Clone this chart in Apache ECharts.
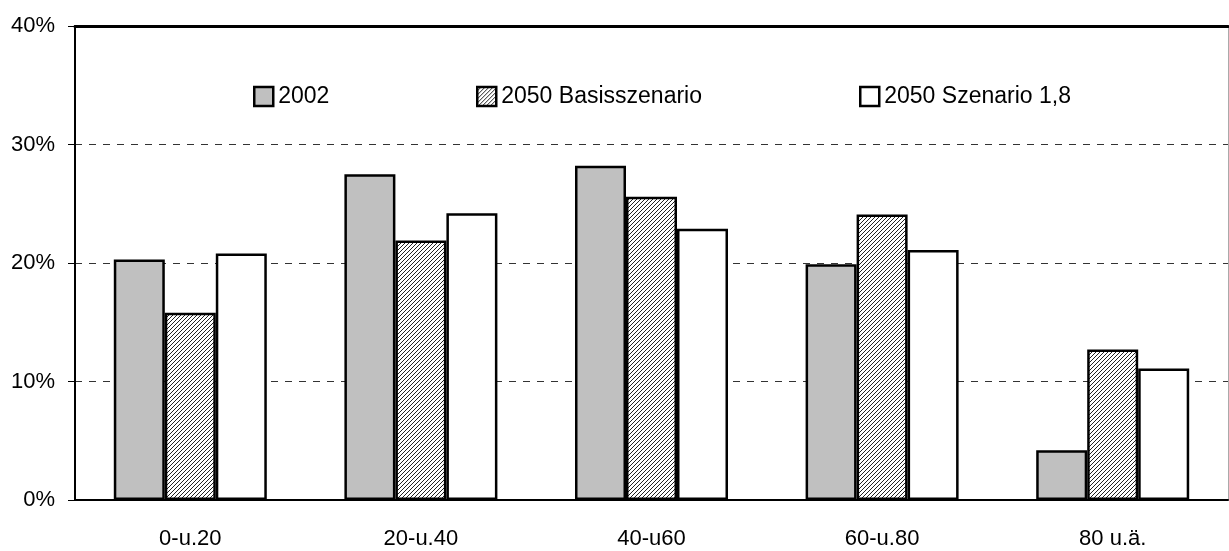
<!DOCTYPE html>
<html>
<head>
<meta charset="utf-8">
<script src="https://cdn.jsdelivr.net/npm/echarts@6/dist/echarts.min.js"></script>
<style>
  html, body { margin: 0; padding: 0; background: #fff; }
  #chart { width: 1229px; height: 551px; }
</style>
</head>
<body>
<div id="chart"></div>
<script>
// Altersgruppen
const categories = ["0-u.20", "20-u.40", "40-u60", "60-u.80", "80 u.ä."];
const seriesNames = ["2002", "2050 Basisszenario", "2050 Szenario 1,8"];
// Anteile in %
const values2002 = [20.3, 27.5, 28.2, 19.9, 4.2];
const valuesBasis = [15.8, 21.9, 25.6, 24.1, 12.7];
const valuesSzen18 = [20.8, 24.2, 22.9, 21.1, 11.1];
const yTicks = [0, 10, 20, 30, 40];

const fontFam = "'Liberation Sans', Arial, sans-serif";

// schraffur
function hatch() {
  const c = document.createElement("canvas");
  c.width = 4;
  c.height = 4;
  const ctx = c.getContext("2d");
  ctx.fillStyle = "#fff";
  ctx.fillRect(0, 0, 4, 4);
  ctx.fillStyle = "#222";
  for (let i = 0; i < 4; i++) ctx.fillRect(i, 3 - i, 1, 1);
  return { image: c, repeat: "repeat" };
}
const hatchFill = hatch();

const chart = echarts.init(document.getElementById("chart"));

const border = { borderColor: "#000", borderWidth: 2.5 };
const fills = ["#c0c0c0", hatchFill, "#ffffff"];
const data = [values2002, valuesBasis, valuesSzen18];
const legendLeft = [248, 471, 854];

chart.setOption({
  animation: false,
  grid: { left: 75, right: 1, top: 26, bottom: 51 },
  legend: seriesNames.map((n, i) => ({
    data: [n],
    left: legendLeft[i],
    top: 80,
    itemWidth: 19,
    itemHeight: 19,
    itemGap: 5,
    icon: "rect",
    itemStyle: Object.assign({ color: fills[i] }, border),
    textStyle: { fontFamily: fontFam, fontSize: 23, color: "#000" },
  })),
  xAxis: [
    {
      type: "category",
      data: categories,
      axisLine: { lineStyle: { color: "#000", width: 2 } },
      axisTick: { length: 8, lineStyle: { color: "#808080" } },
      axisLabel: { fontFamily: fontFam, fontSize: 22, color: "#000", margin: 28 },
    },
    {
      type: "category",
      position: "top",
      data: categories,
      axisLine: { onZero: false, lineStyle: { color: "#000", width: 3 } },
      axisTick: { show: false },
      axisLabel: { show: false },
    },
  ],
  yAxis: [
    {
      type: "value",
      min: yTicks[0],
      max: yTicks[yTicks.length - 1],
      interval: 10,
      axisLine: { show: true, lineStyle: { color: "#000", width: 2 } },
      axisTick: { show: true, length: 7, lineStyle: { color: "#000" } },
      axisLabel: {
        fontFamily: fontFam,
        fontSize: 22,
        color: "#000",
        margin: 20,
        formatter: "{value}%",
      },
      splitLine: { lineStyle: { color: "#333", type: [7, 7], width: 1 } },
    },
    {
      type: "value",
      position: "right",
      min: 0,
      max: 40,
      interval: 10,
      axisLine: { show: true, lineStyle: { color: "#aaa", width: 1 } },
      axisTick: { show: false },
      axisLabel: { show: false },
      splitLine: { show: false },
    },
  ],
  series: seriesNames.map((n, i) => ({
    name: n,
    type: "bar",
    data: data[i],
    barWidth: 51,
    barGap: "0%",
    itemStyle: Object.assign({ color: fills[i] }, border),
  })),
});
</script>
</body>
</html>
